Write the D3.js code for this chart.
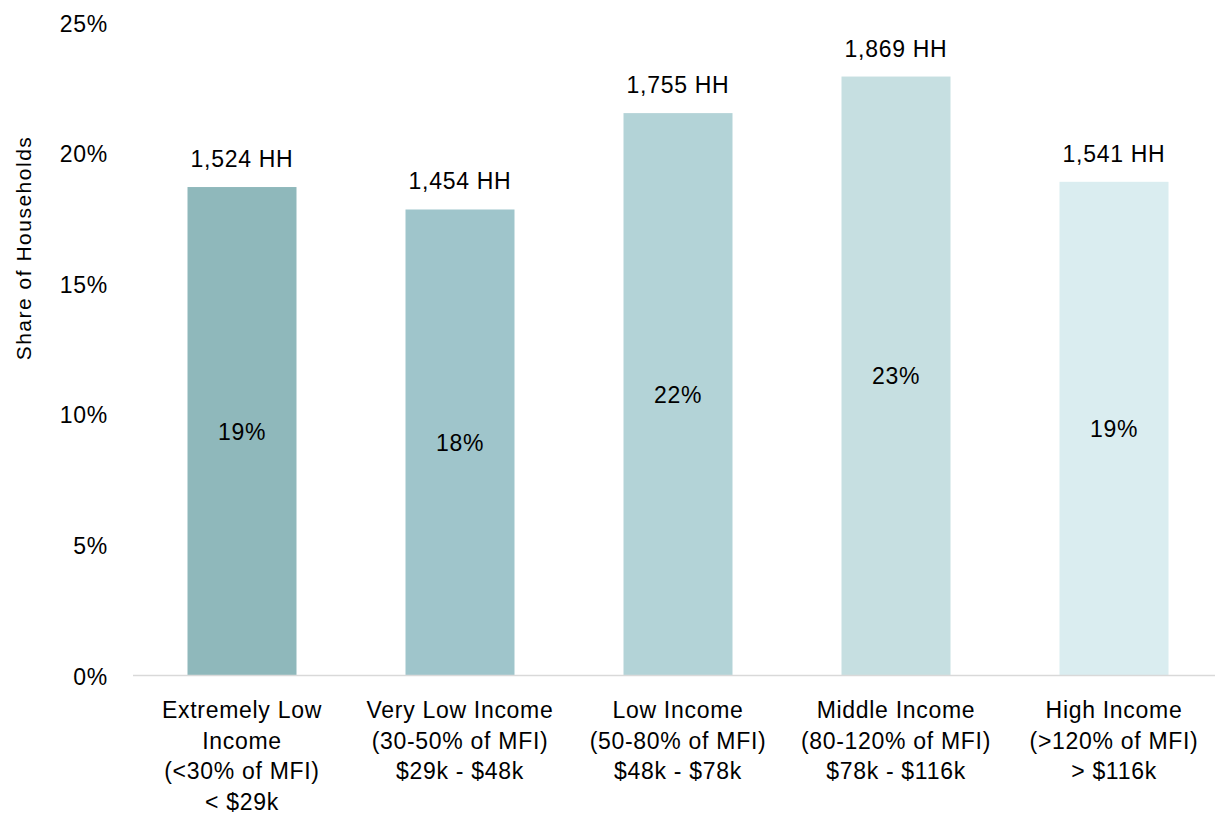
<!DOCTYPE html>
<html>
<head>
<meta charset="utf-8">
<script src="https://cdn.jsdelivr.net/npm/d3@7"></script>
<style>
  html, body { margin: 0; padding: 0; background: #fff; }
  svg text { font-family: "Liberation Sans", Arial, sans-serif; fill: #000; }
</style>
</head>
<body>
<svg id="chart" width="1215" height="813"></svg>
<script>
const categories = [
  ["Extremely Low", "Income", "(<30% of MFI)", "< $29k"],
  ["Very Low Income", "(30-50% of MFI)", "$29k - $48k"],
  ["Low Income", "(50-80% of MFI)", "$48k - $78k"],
  ["Middle Income", "(80-120% of MFI)", "$78k - $116k"],
  ["High Income", "(>120% of MFI)", "> $116k"]
];
const households = [1524, 1454, 1755, 1869, 1541];
const shares = [0.1872, 0.1786, 0.2155, 0.2295, 0.1892];
const shareLabels = ["19%", "18%", "22%", "23%", "19%"];
const yTicks = [0, 0.05, 0.10, 0.15, 0.20, 0.25];
const colors = ["#8fb8bb", "#9fc5cb", "#b3d3d7", "#c6dfe1", "#daedf0"];

const svg = d3.select("#chart");
const x = d3.scaleBand().domain(d3.range(categories.length)).range([133, 1223]).paddingInner(0.5).paddingOuter(0.25);
const y = d3.scaleLinear().domain([0, 0.25]).range([676, 23]);

const fs = 23;
const ls = "0.7px";

// y axis
const yAxis = d3.axisLeft(y).tickValues(yTicks).tickFormat(d3.format(".0%")).tickSize(0).tickPadding(0);
const gy = svg.append("g").attr("transform", "translate(108,0)").call(yAxis);
gy.select(".domain").remove();
gy.selectAll("text").attr("font-size", fs).attr("letter-spacing", ls).attr("dy", "0.35em")
  .style("font-family", '"Liberation Sans", Arial, sans-serif');

svg.append("text").attr("transform", "translate(31,248) rotate(-90)")
  .attr("text-anchor", "middle").attr("font-size", 21).attr("letter-spacing", "1.5px").text("Share of Households");

// bars
svg.append("g").selectAll("rect").data(shares).join("rect")
  .attr("x", (d, i) => x(i)).attr("width", x.bandwidth())
  .attr("y", d => y(d)).attr("height", d => y(0) - y(d))
  .attr("fill", (d, i) => colors[i]);

// baseline
svg.append("line").attr("x1", 133).attr("x2", 1215).attr("y1", y(0) - 0.5).attr("y2", y(0) - 0.5)
  .attr("stroke", "#d9d9d9").attr("stroke-width", 1.5);

// labels inside bars
svg.append("g").selectAll("text").data(shares).join("text")
  .attr("x", (d, i) => x(i) + x.bandwidth() / 2)
  .attr("y", d => (y(d) + y(0)) / 2).attr("dy", "0.35em")
  .attr("text-anchor", "middle").attr("font-size", fs).attr("letter-spacing", ls)
  .text((d, i) => shareLabels[i]);

// HH labels
const fmt = d3.format(",");
svg.append("g").selectAll("text").data(households).join("text")
  .attr("x", (d, i) => x(i) + x.bandwidth() / 2)
  .attr("y", (d, i) => y(shares[i]) - 20)
  .attr("text-anchor", "middle").attr("font-size", fs).attr("letter-spacing", ls)
  .text(d => fmt(d) + " HH");

// x axis labels
const gx = svg.append("g");
categories.forEach((lines, i) => {
  const t = gx.append("text").attr("text-anchor", "middle").attr("font-size", fs).attr("letter-spacing", ls);
  lines.forEach((ln, j) => {
    t.append("tspan").attr("x", x(i) + x.bandwidth() / 2).attr("y", 718 + j * 30.5).text(ln);
  });
});
</script>
</body>
</html>
